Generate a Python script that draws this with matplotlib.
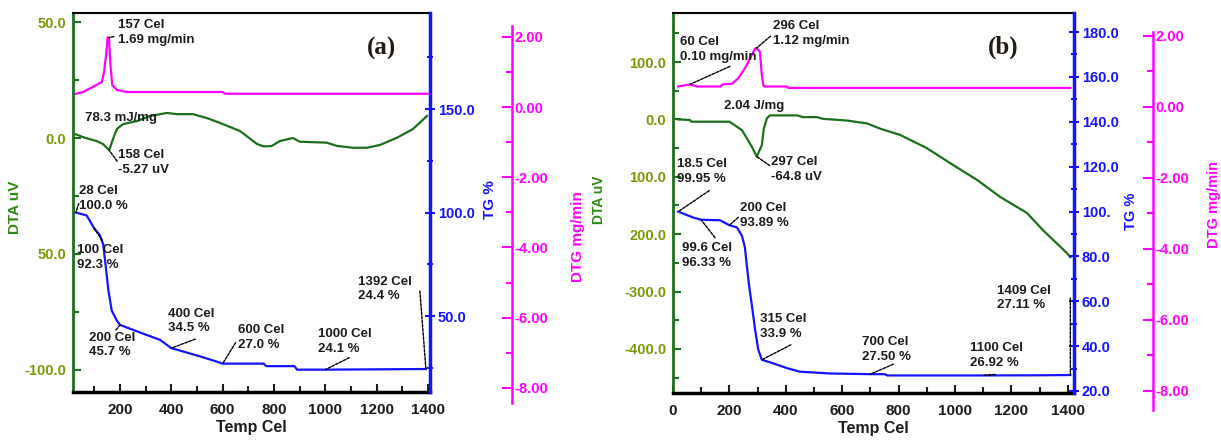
import matplotlib.pyplot as plt
from matplotlib.ticker import FixedLocator, FixedFormatter, MultipleLocator

plt.rcParams['font.family'] = ['Liberation Sans', 'DejaVu Sans']
plt.rcParams['font.weight'] = 'bold'
plt.rcParams['axes.labelweight'] = 'bold'

W, H = 1221, 441

GREEN = '#1d6f1d'
OLIVE = '#7a9a08'
BLUE = '#1414ff'
MAGENTA = '#ff00ff'
INK = '#1c1c1c'

# ---- (a) ----
a_dta_t = [28, 64, 109, 134, 153, 158, 173, 188, 212, 266, 317, 383, 422, 484, 539,
           590, 668, 734, 760, 790, 823, 874, 901, 1006, 1045, 1108, 1162, 1213, 1279,
           1342, 1396]
a_dta_v = [1.6, 0.1, -1.3, -2.6, -4.7, -5.27, -0.4, 3.9, 6.0, 7.3, 9.5, 10.8, 10.3, 10.3,
           8.6, 6.5, 3.0, -2.6, -3.6, -3.5, -1.3, 0.0, -1.6, -2.0, -3.4, -4.2, -4.2, -3.0,
           0.1, 3.9, 9.5]
a_tg_t = [28, 70, 100, 122, 135, 145, 155, 168, 187, 200, 290, 356, 400, 512, 577, 600,
          760, 770, 880, 890, 1000, 1392]
a_tg_v = [100.0, 98.6, 92.3, 89.0, 84.5, 73.6, 62.3, 52.6, 48.0, 45.7, 41.5, 38.5, 34.5,
          30.5, 28.0, 27.0, 27.0, 25.8, 25.8, 24.1, 24.1, 24.4]
a_dtg_t = [28, 56, 95, 130, 138, 146, 152, 157, 163, 170, 188, 227, 600, 610, 1400]
a_dtg_v = [0.09, 0.14, 0.29, 0.43, 0.71, 1.2, 1.69, 1.69, 0.91, 0.34, 0.2, 0.14, 0.14,
           0.09, 0.09]

# ---- (b) ----
b_dta_t = [18, 60, 65, 200, 220, 245, 262, 280, 297, 315, 322, 333, 344, 440, 461, 510,
           532, 617, 688, 734, 805, 900, 982, 1080, 1160, 1255, 1312, 1397, 1409]
b_dta_v = [0, -1, -4, -4, -10.5, -19, -33, -48, -64.8, -45, -16, 2, 7, 7, 4, 4, 1, -2,
           -7, -16, -27, -50, -76, -106, -135, -163, -193, -233, -240]
b_tg_t = [18.5, 72, 99.6, 167, 200, 227, 245, 255, 262, 270, 280, 291, 302, 315, 344, 404,
          450, 557, 700, 750, 760, 1100, 1300, 1409]
b_tg_v = [99.95, 97.3, 96.33, 96.1, 93.89, 92.9, 89, 84, 75.7, 66.8, 57.9, 47.5, 38.6,
          33.9, 32.8, 30.2, 28.6, 27.8, 27.5, 27.5, 26.92, 26.92, 27.0, 27.11]
b_dtg_t = [18, 60, 85, 167, 177, 209, 230, 255, 273, 291, 296, 308, 315, 320, 326, 404,
           408, 1409]
b_dtg_v = [0.04, 0.10, 0.04, 0.04, 0.1, 0.12, 0.26, 0.55, 0.83, 1.11, 1.12, 1.02, 0.37,
           0.08, 0.04, 0.04, 0.0, 0.0]

# tick labels as printed on the instrument plot
a_dta_ticks = [-100, -50, 0, 50]
a_dta_labels = ['-100.0', '50.0', '0.0', '50.0']
a_tg_ticks = [50, 100, 150]
a_tg_labels = ['50.0', '100.0', '150.0']
b_dta_ticks = [-400, -300, -200, -100, 0, 100]
b_dta_labels = ['-400.0', '-300.0', '200.0', '100.0', '0.0', '100.0']
b_tg_ticks = [20, 40, 60, 80, 100, 120, 140, 160, 180]
b_tg_labels = ['20.0', '40.0', '60.0', '80.0', '100.', '120.0', '140.0', '160.0', '180.0']
dtg_ticks = [-8, -6, -4, -2, 0, 2]
dtg_labels = ['-8.00', '-6.00', '-4.00', '-2.00', '0.00', '2.00']

# (curve, x, y, text, text offset px, leader end offset px)
a_notes = [
    ('dtg', 157, 1.69, '157 Cel\n1.69 mg/min', (9, 5), (5, 1)),
    ('dta', 158, -5.27, '158 Cel\n-5.27 uV', (9, -12), (8, -11)),
    ('dta', 158, -5.27, '78.3 mJ/mg', (-24, 32), None),
    ('tg', 28, 100.0, '28 Cel\n100.0 %', (3, 14), (3, 9)),
    ('tg', 100, 92.3, '100 Cel\n92.3 %', (-17, -29), (8, -12)),
    ('tg', 200, 45.7, '200 Cel\n45.7 %', (-31, -20), (-4, -5)),
    ('tg', 400, 34.5, '400 Cel\n34.5 %', (-3, 27), (24, 9)),
    ('tg', 600, 27.0, '600 Cel\n27.0 %', (15, 26), (13, 21)),
    ('tg', 1000, 24.1, '1000 Cel\n24.1 %', (-7, 28), (24, 12)),
    ('tg', 1392, 24.4, '1392 Cel\n24.4 %', (-68, 80), (-6, 78)),
]
b_notes = [
    ('dtg', 60, 0.10, '60 Cel\n0.10 mg/min', (-10, 35), (40, 18)),
    ('dtg', 296, 1.12, '296 Cel\n1.12 mg/min', (17, 15), (14, 12)),
    ('dta', 297, -64.8, '2.04 J/mg', (-33, 51), None),
    ('dta', 297, -64.8, '297 Cel\n-64.8 uV', (14, -13), (13, -9)),
    ('tg', 18.5, 99.95, '18.5 Cel\n99.95 %', (-1, 40), (31, 21)),
    ('tg', 99.6, 96.33, '99.6 Cel\n96.33 %', (-19, -36), (14, -18)),
    ('tg', 200, 93.89, '200 Cel\n93.89 %', (11, 10), (9, 8)),
    ('tg', 315, 33.9, '315 Cel\n33.9 %', (-2, 33), (29, 15)),
    ('tg', 700, 27.50, '700 Cel\n27.50 %', (-8, 25), (23, 10)),
    ('tg', 1100, 26.92, '1100 Cel\n26.92 %', (-13, 20), (12, 1)),
    ('tg', 1409, 27.11, '1409 Cel\n27.11 %', (-73, 77), (0, 77)),
]


def box(l, t, r, b):
    return [l / W, 1 - b / H, (r - l) / W, (b - t) / H]


def panel(frame, dtg_frame, xlim, dta, dta_lim, dta_ticks, dta_labels, dta_minor,
          tg, tg_lim, tg_ticks, tg_labels, tg_minor, dtg, dtg_lim, dtg_axis_lim, notes):
    ax = fig.add_axes(box(*frame))
    ax.plot(dta[0], dta[1], color=GREEN, lw=1.6)
    ax.set_xlim(*xlim)
    ax.set_ylim(*dta_lim)
    ax.xaxis.set_major_locator(MultipleLocator(200))
    ax.xaxis.set_minor_locator(MultipleLocator(100))
    ax.yaxis.set_major_locator(FixedLocator(dta_ticks))
    ax.yaxis.set_major_formatter(FixedFormatter(dta_labels))
    ax.yaxis.set_minor_locator(MultipleLocator(dta_minor))
    ax.tick_params(axis='x', which='both', direction='in', width=1.5, labelsize=11,
                   pad=8, colors=INK)
    ax.tick_params(axis='x', which='major', length=6)
    ax.tick_params(axis='x', which='minor', length=4)
    ax.tick_params(axis='y', which='both', direction='in', width=1.5, color=GREEN,
                   labelcolor=OLIVE, labelsize=10.5, pad=5)
    ax.tick_params(axis='y', which='major', length=6)
    ax.tick_params(axis='y', which='minor', length=4)
    ax.spines['left'].set_color(GREEN)
    ax.spines['left'].set_linewidth(2)
    ax.spines['top'].set_linewidth(1.5)
    ax.spines['bottom'].set_linewidth(2.5)
    ax.spines['right'].set_visible(False)
    ax.set_xlabel('Temp Cel', fontsize=11.5, labelpad=2, color=INK)

    tx = ax.twinx()
    tx.plot(tg[0], tg[1], color=BLUE, lw=1.6)
    tx.set_ylim(*tg_lim)
    tx.yaxis.set_major_locator(FixedLocator(tg_ticks))
    tx.yaxis.set_major_formatter(FixedFormatter(tg_labels))
    tx.yaxis.set_minor_locator(MultipleLocator(tg_minor))
    tx.tick_params(axis='y', which='both', direction='inout', width=1.5, color=BLUE,
                   labelcolor=BLUE, labelsize=10.5, pad=2)
    tx.tick_params(axis='y', which='major', length=7)
    tx.tick_params(axis='y', which='minor', length=5)
    for side in ('left', 'top', 'bottom'):
        tx.spines[side].set_visible(False)
    tx.spines['right'].set_color(BLUE)
    tx.spines['right'].set_linewidth(2.5)

    gx = ax.twinx()
    gx.plot(dtg[0], dtg[1], color=MAGENTA, lw=1.6)
    gx.set_ylim(*dtg_lim)
    gx.axis('off')

    # DTG scale on its own offset spine
    sx = fig.add_axes(box(*dtg_frame))
    sx.patch.set_visible(False)
    for side in ('left', 'top', 'bottom'):
        sx.spines[side].set_visible(False)
    sx.spines['right'].set_color(MAGENTA)
    sx.spines['right'].set_linewidth(1.8)
    sx.set_xticks([])
    sx.set_ylim(*dtg_axis_lim)
    sx.yaxis.tick_right()
    sx.yaxis.set_major_locator(FixedLocator(dtg_ticks))
    sx.yaxis.set_major_formatter(FixedFormatter(dtg_labels))
    sx.yaxis.set_minor_locator(MultipleLocator(1))
    sx.tick_params(axis='y', which='both', direction='in', width=1.5, color=MAGENTA,
                   labelcolor=MAGENTA, labelsize=10.5, pad=2)
    sx.tick_params(axis='y', which='major', length=7)
    sx.tick_params(axis='y', which='minor', length=4)

    curves = {'dta': ax, 'tg': tx, 'dtg': gx}
    for which, x, y, text, toff, loff in notes:
        target = curves[which]
        target.annotate(text, xy=(x, y), xytext=toff, textcoords='offset pixels',
                        ha='left', va='center', fontsize=9.5, color=INK,
                        linespacing=1.3)
        if loff:
            target.annotate('', xy=(x, y), xytext=loff, textcoords='offset pixels',
                            arrowprops=dict(arrowstyle='-', color='black', lw=1,
                                            ls=(0, (2, 1)), shrinkA=0, shrinkB=0))
    return ax


fig = plt.figure(figsize=(W / 100, H / 100), dpi=100)

panel((73, 13, 430, 392), (73, 26, 512, 403), (17, 1408),
      (a_dta_t, a_dta_v), (-109.5, 53.9), a_dta_ticks, a_dta_labels, 25,
      (a_tg_t, a_tg_v), (13.3, 196.4), a_tg_ticks, a_tg_labels, 25,
      (a_dtg_t, a_dtg_v), (-8.40, 2.39), (-8.43, 2.31), a_notes)

panel((673, 13, 1074, 393), (673, 32, 1153, 410), (0, 1422),
      (b_dta_t, b_dta_v), (-476.7, 185.4), b_dta_ticks, b_dta_labels, 50,
      (b_tg_t, b_tg_v), (19.1, 188.5), b_tg_ticks, b_tg_labels, 10,
      (b_dtg_t, b_dtg_v), (-8.59, 2.11), (-8.54, 2.11), b_notes)


def side_label(x, y, text, color, size=11):
    fig.text(x / W, 1 - y / H, text, rotation=90, ha='center', va='center',
             color=color, fontsize=size)


side_label(15, 207, 'DTA uV', '#2e8a12')
side_label(490, 200, 'TG %', BLUE)
side_label(578, 237, 'DTG mg/min', MAGENTA)
side_label(599, 200, 'DTA uV', '#2e8a12', 10)
side_label(1131, 211, 'TG %', BLUE, 10.5)
side_label(1214, 205, 'DTG mg/min', MAGENTA, 10.5)

for x, y, tag in [(382, 48, '(a)'), (1003, 47, '(b)')]:
    fig.text(x / W, 1 - y / H, tag, ha='center', va='center', fontsize=18,
             family='Liberation Serif', weight='bold', color='#241a10')

fig.savefig('out.png', dpi=100)
